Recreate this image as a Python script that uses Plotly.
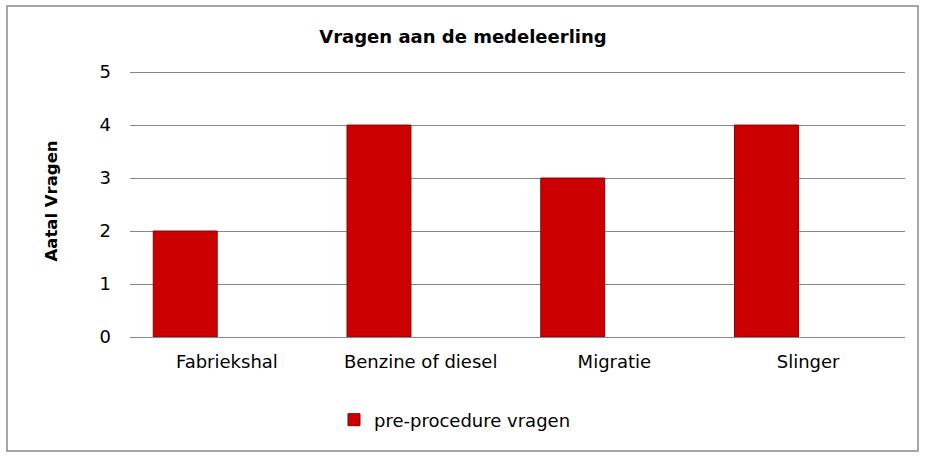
import plotly.graph_objects as go

categories = ["Fabriekshal", "Benzine of diesel", "Migratie", "Slinger"]
values = [2, 4, 3, 4]
series_name = "pre-procedure vragen"
y_ticks = [0, 1, 2, 3, 4, 5]

W, H = 925, 460
L, R, T, B = 130, 20, 71, 123
pw, ph = W - L - R, H - T - B

def px_x(x):
    return (x - L) / pw

def px_y(y):
    return (H - B - y) / ph

font = "DejaVu Sans, Verdana, sans-serif"

fig = go.Figure()
fig.add_trace(go.Bar(
    x=categories, y=values, name=series_name,
    width=0.33, offset=-0.38,
    marker=dict(color="#CC0000", line=dict(color="#8E0000", width=1)),
    showlegend=True,
))

fig.update_layout(
    width=W, height=H,
    margin=dict(l=L, r=R, t=T, b=B),
    paper_bgcolor="white", plot_bgcolor="white",
    font=dict(family=font, size=18, color="black"),
    title=dict(text="<b>Vragen aan de medeleerling</b>", x=px_x(463), xref="paper",
               xanchor="center", y=1 - 37 / H, yref="container", yanchor="middle",
               font=dict(size=18, family=font, color="black")),
    xaxis=dict(type="category", range=[-0.5, 3.5], showgrid=False, showline=False,
               ticks="", ticklabelstandoff=12, tickfont=dict(size=18)),
    yaxis=dict(range=[0, 5.02], tickvals=y_ticks, showgrid=True, gridcolor="#888888",
               gridwidth=1.4, zeroline=True, zerolinecolor="#888888", zerolinewidth=1.4,
               showline=False, ticks="", ticklabelstandoff=18, tickfont=dict(size=18)),
    showlegend=True,
    legend=dict(orientation="h", x=px_x(455), xanchor="center", y=px_y(420), yanchor="middle",
                font=dict(size=18, family=font), itemwidth=30, bgcolor="rgba(0,0,0,0)"),
    bargap=0.2,
)

fig.add_annotation(text="<b>Aatal Vragen</b>", xref="paper", yref="paper",
                   x=px_x(39), y=px_y(201), textangle=-90, showarrow=False,
                   font=dict(size=16.5, family=font, color="black"))

fig.add_shape(type="rect", xref="paper", yref="paper",
              x0=px_x(7), x1=px_x(918), y0=px_y(451), y1=px_y(6),
              line=dict(color="#8A8A8A", width=1.5), fillcolor="rgba(0,0,0,0)", layer="below")

fig.write_html("out.html")
